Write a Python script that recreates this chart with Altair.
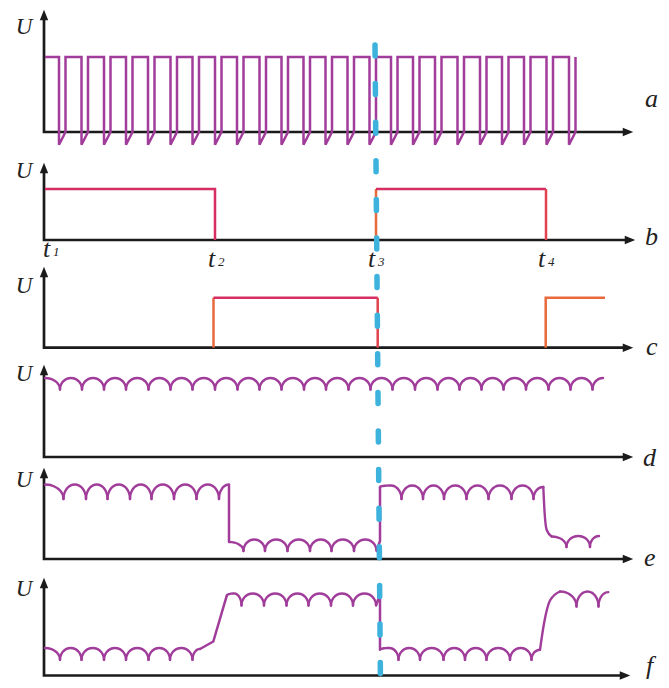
import math
import altair as alt
import pandas as pd

# ---------------- values ----------------
# time runs from the U axis (0); level is height above each trace's time axis
t_marks = [0, 171, 332, 502]          # t1 .. t4
t_subs = ["1", "2", "3", "4"]

# (a) pulse train: falling edges, high level, undershoot, low time
a_falls = [15, 37.5, 60, 82, 104, 126.5, 148.5, 171, 193, 215.5, 237.5, 259.5,
           281.5, 303.5, 325.5, 347, 369, 391, 413.5, 436, 458, 480, 502.5, 525]
a_high = 75
a_under = -12.7
a_low_time = 6.5

# (b), (c) gate pulses (start, end)
b_high = 51
b_pulses = [(0, 171), (332, 502)]
c_high = 50
c_pulses = [(169.5, 333.7), (501.7, 561)]

# (d) rectified ripple: cusp times, crest and cusp levels
d_dips = [16, 38, 60, 82, 104.5, 126.5, 148.5, 171, 193.5, 215.5, 237.5, 260, 282,
          304.5, 326.5, 348.5, 371, 393.5, 415.5, 437.5, 459.5, 482, 504.5, 526.5, 548.5]
d_top, d_dip = 79, 67.5
d_span = (1, 559)

# (e)
e_hi1_dips = [19.5, 42, 63.5, 86, 107.5, 130, 152.5, 175]
e_lo1_dips = [199.5, 221, 243.5, 266, 287.5, 310, 332.5]
e_hi2_dips = [357.5, 379, 400, 422.5, 444.5, 467.5, 489.5]
e_lo2_dips = [522.5, 546]
e_hi_top, e_hi_dip = 74.5, 60
e_lo_top, e_lo_dip = 19.5, 8
e_lo2_top, e_lo2_dip = 23, 12
e_fall1 = [(185, 74.5), (185, 17)]
e_rise1 = [(332.5, 8), (336, 18), (336, 72)]
e_fall2 = [(499.3, 72), (500.5, 48), (502.7, 29), (507.7, 22.5)]

# (f)
f_lo1_dips = [16, 37.5, 60, 82, 104.5, 126, 148.5]
f_hi1_dips = [197.5, 220, 242.5, 264.5, 287, 309, 332]
f_lo2_dips = [354.5, 376, 399.5, 421, 442.5, 466, 487.5]
f_hi2_dips = [532.5, 554.5]
f_lo_top, f_lo_dip = 27.5, 15.7
f_hi_top, f_hi_dip = 82, 70
f_hi2_top, f_hi2_dip = 84, 69
f_rise1 = [(156, 26.5), (169.3, 34), (182.7, 79.7)]
f_fall1 = [(332, 70), (336, 81), (336, 25.7)]
f_rise2 = [(496, 25.7), (500, 52), (506, 75), (516, 84)]

# marker line at t3 (time at its top and bottom)
marker_t = (331, 336.5)

# ---------------- layout ----------------
W, H = 653, 672
X0 = 44                                 # page x of time 0
panels = ["a", "b", "c", "d", "e", "f"]
base_Y = {"a": 132, "b": 240, "c": 347.7, "d": 457, "e": 559, "f": 675.5}
tip_Y = {"a": 10, "b": 163, "c": 267, "d": 365, "e": 468, "f": 578}
tip_X = {"a": 633, "b": 635, "c": 633, "d": 633, "e": 633, "f": 630}
U_Y = {"a": 27, "b": 171, "c": 286, "d": 374, "e": 480, "f": 589}
letter_pos = {"a": (645, 107), "b": (645, 245), "c": (646, 355),
              "d": (643, 466), "e": (644, 566), "f": (646, 674)}

PURPLE = "#a03c9a"
CRIMSON = "#d62e62"
ORANGE = "#e8693c"
RED = "#e0434f"
BLACK = "#1b1b1b"
BLUE = "#3db2dc"


def gy(p, level):
    return (H + 8 - base_Y[p]) + level


def py(Y):
    return H + 8 - Y


def px(X):
    return X - X0


curve_rows, line_rows, axis_rows = [], [], []
gid = [0]


def add(rows, p, pts, col=None):
    gid[0] += 1
    for i, (x, y) in enumerate(pts):
        rows.append(dict(x=x, y=gy(p, y), g=gid[0], i=i, col=col))


def arch(p, xl, yl, xp, top, xr, yr, n=9):
    """One rounded crest: quarter-ellipse up from (xl, yl) to the crest at xp,
    quarter-ellipse down to (xr, yr)."""
    pts = []
    if xp - xl > 0.05:
        for k in range(n):
            th = math.pi - (math.pi / 2) * k / (n - 1)
            pts.append((xp + (xp - xl) * math.cos(th), yl + (top - yl) * math.sin(th)))
    if xr - xp > 0.05:
        for k in range(n):
            if k == 0 and pts:
                continue
            th = (math.pi / 2) * (1 - k / (n - 1))
            pts.append((xp + (xr - xp) * math.cos(th), yr + (top - yr) * math.sin(th)))
    add(curve_rows, p, pts)


def ripple(p, start, dips, top, dip, start_mode, end=None, end_mode="peak"):
    xs, ys = start
    if start_mode == "peak":
        arch(p, xs, ys, xs, ys, dips[0], dip)
    else:
        arch(p, xs, ys, (xs + dips[0]) / 2, top, dips[0], dip)
    for a, b in zip(dips[:-1], dips[1:]):
        arch(p, a, dip, (a + b) / 2, top, b, dip)
    if end is not None:
        xe, ye = end
        if end_mode == "peak":
            arch(p, dips[-1], dip, xe, ye, xe, ye)
        else:
            arch(p, dips[-1], dip, (dips[-1] + xe) / 2, top, xe, ye)


# (a)
pts = [(1, a_high)]
for f in a_falls:
    pts += [(f, a_high), (f, a_under), (f + a_low_time, 0), (f + a_low_time, a_high)]
add(line_rows, "a", pts, PURPLE)

# (b)
(s1, e1), (s2, e2) = b_pulses
add(line_rows, "b", [(s1 + 1, b_high), (e1, b_high), (e1, 0)], CRIMSON)
add(line_rows, "b", [(s2, 0), (s2, b_high)], ORANGE)
add(line_rows, "b", [(s2, b_high), (e2, b_high)], CRIMSON)
add(line_rows, "b", [(e2, b_high), (e2, 0)], RED)

# (c)
(s1, e1), (s2, e2) = c_pulses
add(line_rows, "c", [(s1, 0), (s1, c_high)], ORANGE)
add(line_rows, "c", [(s1, c_high), (e1, c_high)], CRIMSON)
add(line_rows, "c", [(e1, c_high), (e1, 0)], RED)
add(line_rows, "c", [(s2, 0), (s2, c_high), (e2, c_high)], ORANGE)

# (d)
ripple("d", (d_span[0], d_top), d_dips, d_top, d_dip, "peak", (d_span[1], d_top))

# (e)
ripple("e", (1, e_hi_top), e_hi1_dips, e_hi_top, e_hi_dip, "peak", e_fall1[0])
add(line_rows, "e", e_fall1, PURPLE)
ripple("e", e_fall1[1], e_lo1_dips, e_lo_top, e_lo_dip, "peak")
add(line_rows, "e", e_rise1, PURPLE)
ripple("e", e_rise1[-1], e_hi2_dips, e_hi_top - 1, e_hi_dip, "cusp", e_fall2[0])
add(curve_rows, "e", e_fall2)
ripple("e", e_fall2[-1], e_lo2_dips, e_lo2_top, e_lo2_dip, "peak", (555, e_lo2_top))

# (f)
ripple("f", (1, f_lo_top), f_lo1_dips, f_lo_top, f_lo_dip, "peak", f_rise1[0])
add(line_rows, "f", f_rise1, PURPLE)
ripple("f", f_rise1[-1], f_hi1_dips, f_hi_top, f_hi_dip, "cusp")
add(line_rows, "f", f_fall1, PURPLE)
ripple("f", f_fall1[-1], f_lo2_dips, f_lo_top, f_lo_dip, "cusp", f_rise2[0])
add(curve_rows, "f", f_rise2)
ripple("f", f_rise2[-1], f_hi2_dips, f_hi2_top, f_hi2_dip, "peak", (564.3, 83.4))

# axes with arrowheads
up_rows, right_rows = [], []
for p in panels:
    tipL = base_Y[p] - tip_Y[p]
    tipT = px(tip_X[p])
    add(axis_rows, p, [(0, tipL - 7), (0, 0), (tipT - 7, 0)])
    up_rows.append(dict(x=0, y=gy(p, tipL - 5)))
    right_rows.append(dict(x=tipT - 5, y=gy(p, 0)))

df_curve = pd.DataFrame(curve_rows)
df_line = pd.DataFrame(line_rows)
df_axis = pd.DataFrame(axis_rows)
df_up = pd.DataFrame(up_rows)
df_right = pd.DataFrame(right_rows)
df_marker = pd.DataFrame([dict(x=marker_t[0], y=py(45), i=0),
                          dict(x=marker_t[1], y=py(688), i=1)])

df_U = pd.DataFrame([dict(x=px(24), y=py(U_Y[p]), t="U") for p in panels])
df_letters = pd.DataFrame([dict(x=px(letter_pos[p][0]), y=py(letter_pos[p][1]), t=p)
                           for p in panels])
t_label_X = [43, 208, 368, 538]
t_label_Y = [257, 267, 267, 267]
df_t = pd.DataFrame([dict(x=px(X), y=py(Y), t="t") for X, Y in zip(t_label_X, t_label_Y)])
df_ts = pd.DataFrame([dict(x=px(X + 10), y=py(Y - 1), t=s)
                      for X, Y, s in zip(t_label_X, t_label_Y, t_subs)])

xs = alt.X("x:Q", scale=alt.Scale(domain=[8 - X0, 8 - X0 + W], nice=False, zero=False), axis=None)
ys = alt.Y("y:Q", scale=alt.Scale(domain=[0, H], nice=False, zero=False), axis=None)

curves = alt.Chart(df_curve).mark_line(
    interpolate="monotone", color=PURPLE, strokeWidth=2.4, strokeCap="round", strokeJoin="round"
).encode(x=xs, y=ys, detail="g:N", order="i:Q")

lines = alt.Chart(df_line).mark_line(strokeWidth=2.5, strokeJoin="miter").encode(
    x=xs, y=ys, detail="g:N", order="i:Q", color=alt.Color("col:N", scale=None)
)

axes = alt.Chart(df_axis).mark_line(color=BLACK, strokeWidth=2.7).encode(
    x=xs, y=ys, detail="g:N", order="i:Q"
)

up_heads = alt.Chart(df_up).mark_point(
    shape="M0,-1L0.8,1L-0.8,1Z", filled=True, size=110, color=BLACK, opacity=1, strokeWidth=0
).encode(x=xs, y=ys)
right_heads = alt.Chart(df_right).mark_point(
    shape="M1,0L-1,0.8L-1,-0.8Z", filled=True, size=110, color=BLACK, opacity=1, strokeWidth=0
).encode(x=xs, y=ys)

marker = alt.Chart(df_marker).mark_line(
    color=BLUE, strokeWidth=5.5, strokeDash=[11, 27.6], strokeCap="round"
).encode(x=xs, y=ys, order="i:Q")

serif = "Liberation Serif"
U_text = alt.Chart(df_U).mark_text(
    font=serif, fontStyle="italic", fontSize=23, align="center", baseline="middle", color="#222222"
).encode(x=xs, y=ys, text="t:N")
letters = alt.Chart(df_letters).mark_text(
    font=serif, fontStyle="italic", fontSize=26, align="left", baseline="alphabetic", color="#222222"
).encode(x=xs, y=ys, text="t:N")
t_text = alt.Chart(df_t).mark_text(
    font=serif, fontStyle="italic", fontSize=26, align="left", baseline="alphabetic", color="#222222"
).encode(x=xs, y=ys, text="t:N")
ts_text = alt.Chart(df_ts).mark_text(
    font=serif, fontStyle="italic", fontSize=13, align="left", baseline="alphabetic", color="#222222"
).encode(x=xs, y=ys, text="t:N")

chart = alt.layer(
    axes, up_heads, right_heads, lines, curves, marker, U_text, letters, t_text, ts_text
).properties(
    width=W, height=H, autosize=alt.AutoSizeParams(type="none"), padding=0
).configure_view(stroke=None)

chart.save("out.html", embed_options={"renderer": "svg", "actions": False})
